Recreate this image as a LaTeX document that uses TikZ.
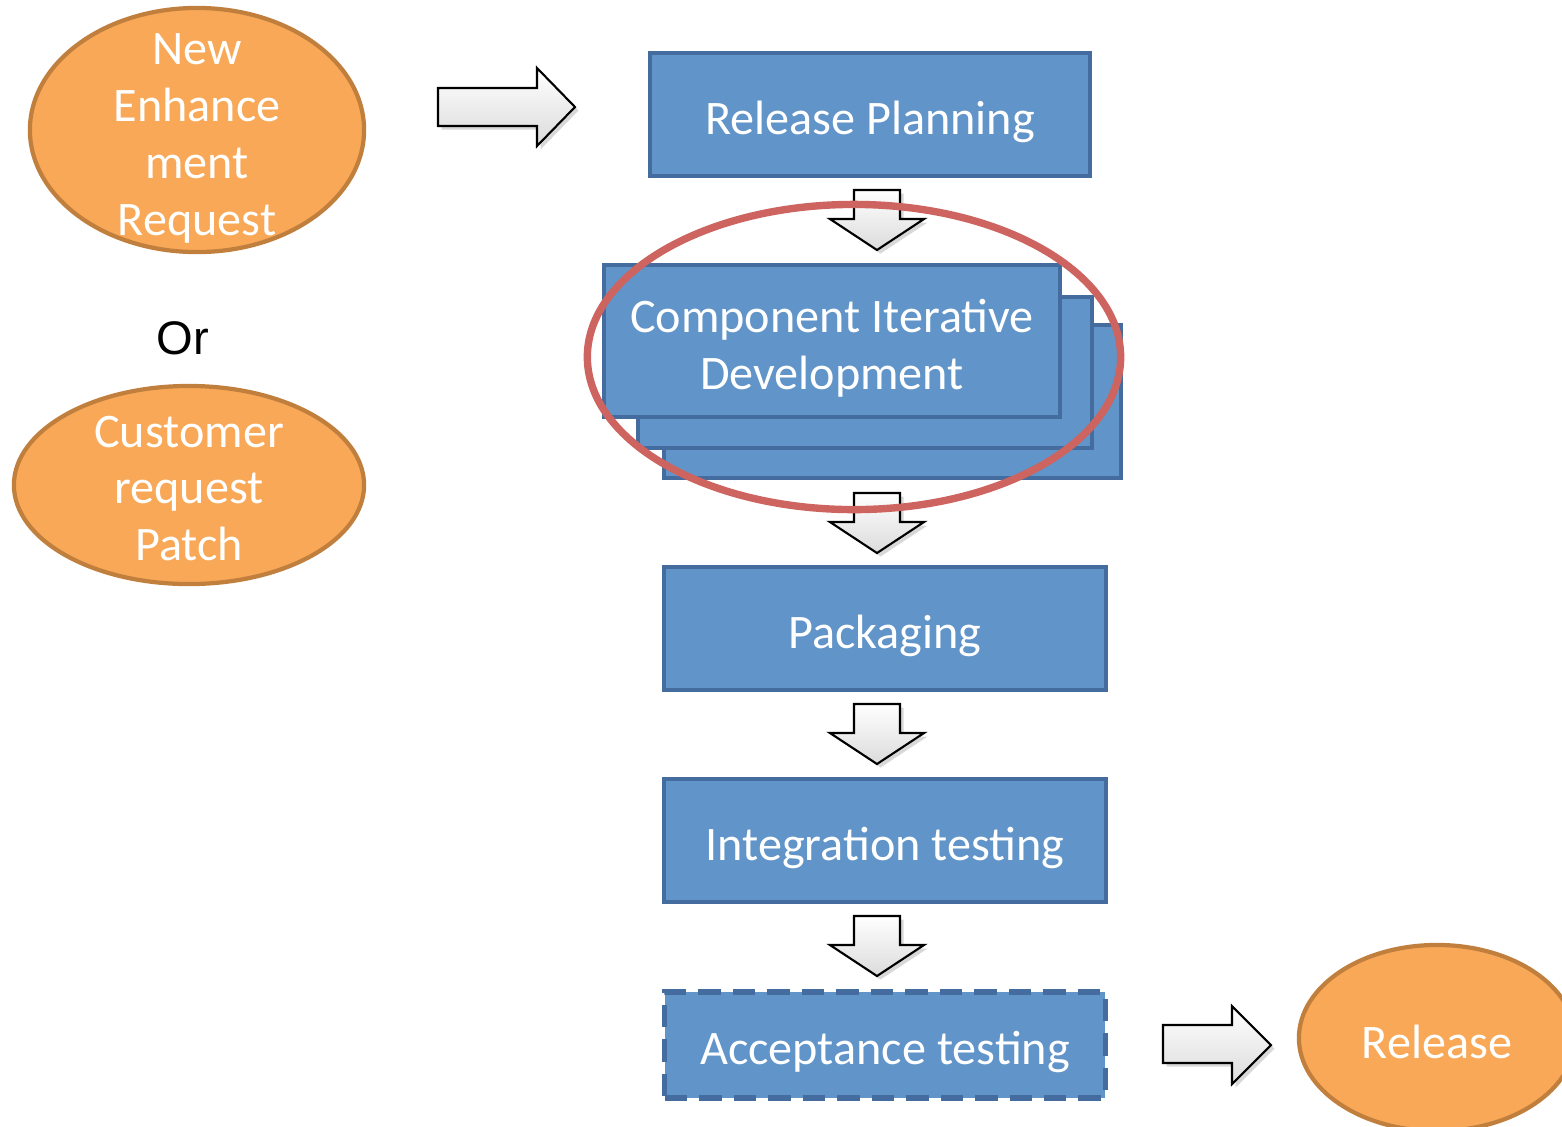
\documentclass[tikz,border=0pt]{standalone}
\usepackage{fontspec}
\setmainfont{Carlito}
\newfontfamily\orfont{Liberation Sans}
\usetikzlibrary{shapes.geometric,shadows}
\definecolor{boxfill}{RGB}{97,148,200}
\definecolor{boxline}{RGB}{68,108,158}
\definecolor{orfill}{RGB}{248,168,86}
\definecolor{orline}{RGB}{193,127,62}
\definecolor{redring}{RGB}{205,100,95}
\begin{document}
\begin{tikzpicture}[x=0.01cm,y=-0.01cm,
  txt/.style={text=white, font=\fontsize{13.7}{16.2}\selectfont, align=center, inner sep=0, yshift=-2pt},
  box/.style={draw=boxline, fill=boxfill, line width=1.2pt, inner sep=0, rectangle},
  oval/.style={ellipse, draw=orline, fill=orfill, line width=1.2pt, inner sep=0},
  blockarrow/.style={draw=black, line width=0.6pt, line join=miter, top color=white, bottom color=gray!28,
    drop shadow={shadow xshift=1pt, shadow yshift=-1pt, opacity=0.3}}]
\clip (0,0) rectangle (1562,1126);
\fill[white] (0,0) rectangle (1562,1126);

% left ovals
\node[oval, minimum width=3.34cm, minimum height=2.44cm,
  label={[txt, yshift=-0.3pt]center:New\\Enhance\\ment\\Request}] (ner) at (197,130) {};
\node[font=\orfont\fontsize{13.4}{16}\selectfont, text=black] (or) at (183,338) {Or};
\node[oval, minimum width=3.50cm, minimum height=1.98cm,
  label={[txt, yshift=1pt]center:Customer\\request\\Patch}] (crp) at (189,485) {};

% boxes
\node[box, minimum width=4.40cm, minimum height=1.23cm, label={[txt]center:Release Planning}] (rp) at (870,114.5) {};
\node[box, minimum width=4.57cm, minimum height=1.53cm] (cidback) at (892.5,401.5) {};
\node[box, minimum width=4.54cm, minimum height=1.51cm] (cidmid) at (865,372.5) {};
\node[box, minimum width=4.56cm, minimum height=1.52cm, label={[txt]center:Component Iterative\\Development}] (cid) at (832,341) {};
\node[box, minimum width=4.42cm, minimum height=1.23cm, label={[txt]center:Packaging}] (pack) at (885,628.5) {};
\node[box, minimum width=4.42cm, minimum height=1.23cm, label={[txt]center:Integration testing}] (integ) at (885,840.5) {};
\node[box, line width=1.45pt, dash pattern=on 6.4pt off 3.4pt, minimum width=4.40cm, minimum height=1.06cm,
  label={[txt]center:Acceptance testing}] (accept) at (885,1045) {};
\node[oval, minimum width=2.76cm, minimum height=1.86cm, label={[txt, yshift=1pt]center:Release}] (rel) at (1437,1038) {};

% block arrows
\draw[blockarrow] (438,88) -- (537,88) -- (537,68) -- (575,107) -- (537,146) -- (537,126) -- (438,126) -- cycle;
\draw[blockarrow] (1163,1025) -- (1232,1025) -- (1232,1006) -- (1271,1045) -- (1232,1084) -- (1232,1063) -- (1163,1063) -- cycle;
\foreach \t in {190,493,704,916}{
  \draw[blockarrow] (854,\t) -- (900,\t) -- ++(0,29) -- ++(24,0) -- ++(-47,31) -- ++(-47,-31) -- ++(24,0) -- cycle;
}

% highlight ring
\node[ellipse, draw=redring, line width=2.1pt, minimum width=5.33cm, minimum height=3.05cm, inner sep=0] (ring) at (854,357) {};
\end{tikzpicture}
\end{document}
